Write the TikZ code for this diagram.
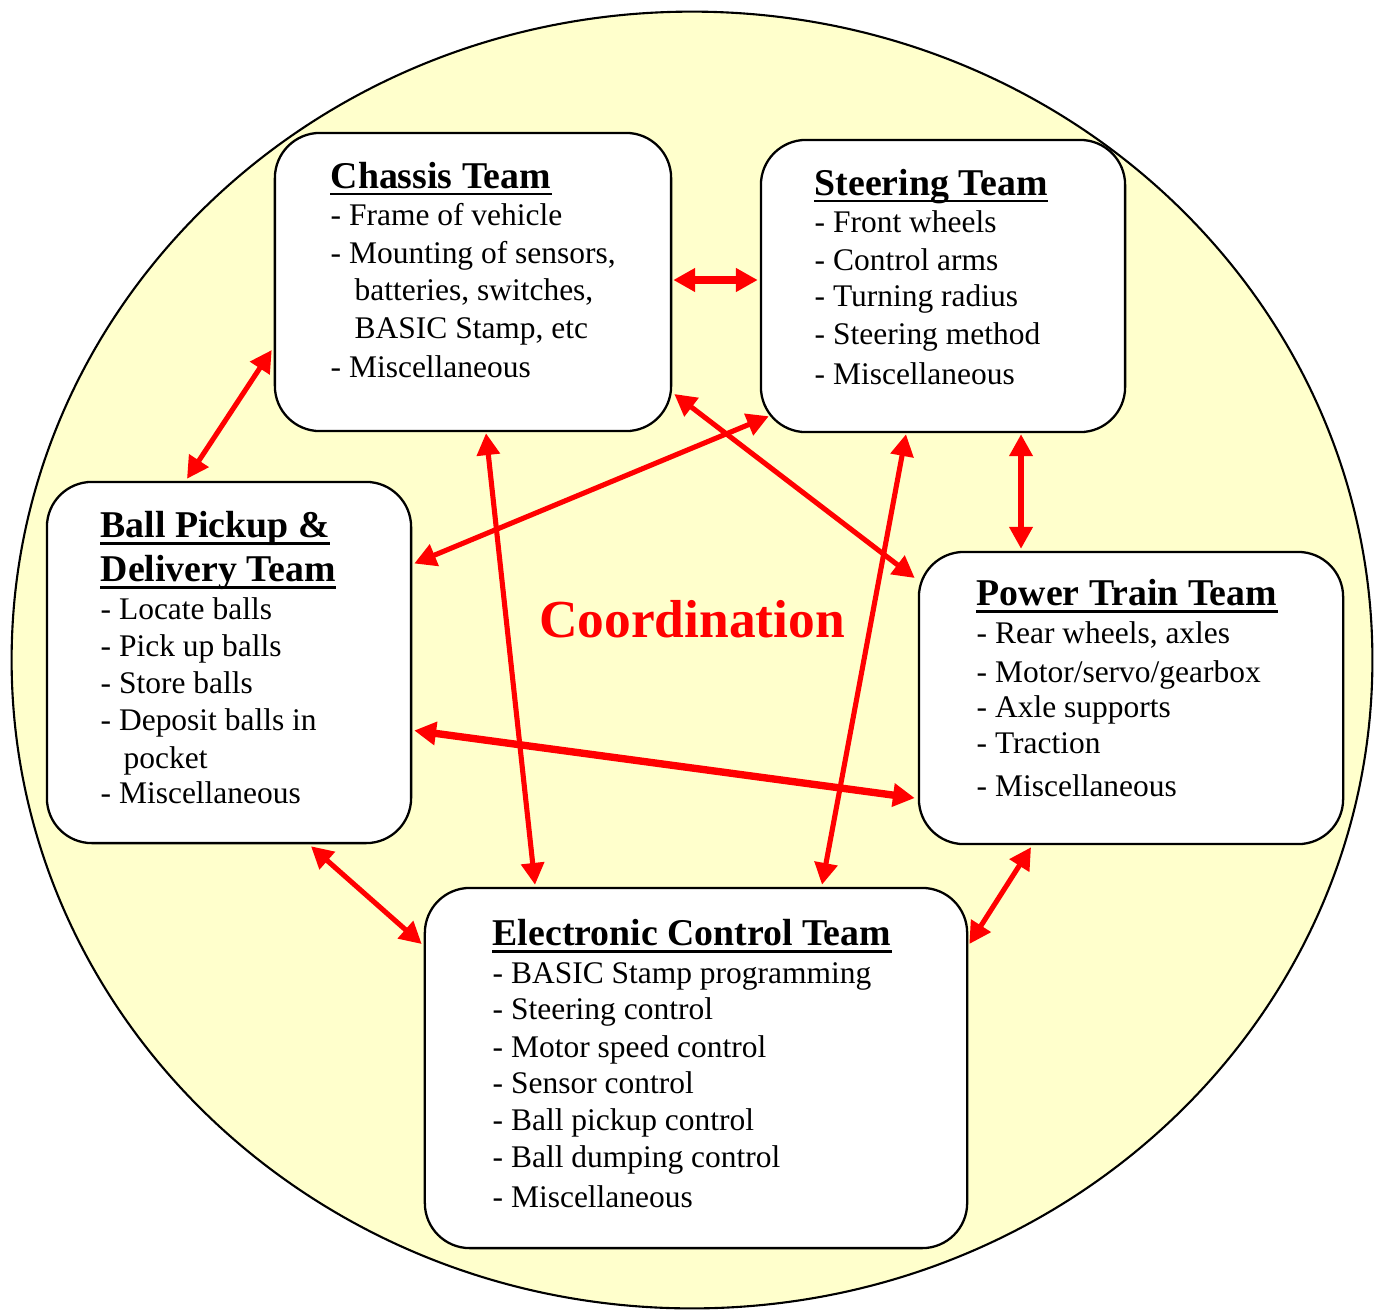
\documentclass[tikz,border=0pt]{standalone}
\usepackage{fontspec}
\setmainfont{Liberation Serif}
\usetikzlibrary{arrows.meta,calc}
\definecolor{bgyellow}{RGB}{255,255,204}
\begin{document}
\begin{tikzpicture}[x=0.01cm,y=-0.01cm,
  box/.style={draw, line width=0.65pt, fill=white, rounded corners=0.45cm, inner sep=0pt},
  ttl/.style={font=\bfseries\fontsize{10.75pt}{12pt}\selectfont, inner sep=0pt, anchor=base west},
  itm/.style={font=\fontsize{8.95pt}{10pt}\selectfont, inner sep=0pt, anchor=base west},
  ul/.style={line width=0.85pt},
  link/.style={draw=red, line width=1.45pt, {Triangle[length=6.2pt,width=6.4pt]}-{Triangle[length=6.2pt,width=6.4pt]}},
  thicklink/.style={link, line width=2.1pt}]
\useasboundingbox (0,0) rectangle (1377,1309);
% background circle
\path[fill=bgyellow, draw=black, line width=0.6pt] (692,660) ellipse [x radius=6.8cm, y radius=6.48cm];

% boxes
\node[box, minimum width=3.96cm, minimum height=2.98cm] (CH) at (473,282) {};
\node[box, minimum width=3.64cm, minimum height=2.92cm] (ST) at (943,286) {};
\node[box, minimum width=3.64cm, minimum height=3.61cm] (BP) at (229,662.5) {};
\node[box, minimum width=4.24cm, minimum height=2.92cm] (PT) at (1131,698) {};
\node[box, minimum width=5.42cm, minimum height=3.60cm] (EC) at (696,1068) {};

% connectors
\draw[thicklink] ($(CH.east)+(1,-2)$) -- ($(ST.west)+(-2,-6)$);
\draw[link] ($(CH.west)+(-2,68)$) -- ($(BP.north)+(-42,-2)$);
\draw[link] ($(ST.south west)+(9,-17)$) -- ($(BP.east)+(2,-99)$);
\draw[link] ($(CH.east)+(2,112)$) -- ($(PT.west)+(-3,-120)$);
\draw[link] ($(CH.south)+(13,1)$) -- ($(EC.north)+(-161,-2)$);
\draw[link] ($(ST.south)+(-37,1)$) -- ($(EC.north)+(126,-2)$);
\draw[link] ($(ST.south)+(78,1)$) -- ($(PT.north)+(-110,-2)$);
\draw[thicklink] ($(BP.east)+(2,68)$) -- ($(PT.west)+(-3,100)$);
\draw[link] ($(BP.south)+(82,2)$) -- ($(EC.west)+(-2,-124)$);
\draw[link] ($(PT.south)+(-100,2)$) -- ($(EC.east)+(1,-124)$);

% Chassis team
\node[ttl] (ch0) at (330,188) {Chassis Team};
\draw[ul] ($(ch0.base west)+(0,6)$) -- ($(ch0.base east)+(0,6)$);
\node[itm] (ch1) at (330,225) {- Frame of vehicle};
\node[itm] (ch2) at (330,263) {- Mounting of sensors,};
\node[itm] (ch3) at (354,300) {batteries, switches,};
\node[itm] (ch4) at (354,338) {BASIC Stamp, etc};
\node[itm] (ch5) at (330,377) {- Miscellaneous};

% Steering team
\node[ttl] (st0) at (814,195) {Steering Team};
\draw[ul] ($(st0.base west)+(0,6)$) -- ($(st0.base east)+(0,6)$);
\node[itm] (st1) at (814,232) {- Front wheels};
\node[itm] (st2) at (814,270) {- Control arms};
\node[itm] (st3) at (814,306) {- Turning radius};
\node[itm] (st4) at (814,344) {- Steering method};
\node[itm] (st5) at (814,384) {- Miscellaneous};

% Ball pickup team
\node[ttl] (bp0) at (100,537) {Ball Pickup \&};
\draw[ul] ($(bp0.base west)+(0,6)$) -- ($(bp0.base east)+(0,6)$);
\node[ttl] (bp0b) at (100,581) {Delivery Team};
\draw[ul] ($(bp0b.base west)+(0,6)$) -- ($(bp0b.base east)+(0,6)$);
\node[itm] (bp1) at (100,619) {- Locate balls};
\node[itm] (bp2) at (100,656) {- Pick up balls};
\node[itm] (bp3) at (100,693) {- Store balls};
\node[itm] (bp4) at (100,730) {- Deposit balls in};
\node[itm] (bp5) at (123,768) {pocket};
\node[itm] (bp6) at (100,803) {- Miscellaneous};

% Power train team
\node[ttl] (pt0) at (976,605) {Power Train Team};
\draw[ul] ($(pt0.base west)+(0,6)$) -- ($(pt0.base east)+(0,6)$);
\node[itm] (pt1) at (976,643) {- Rear wheels, axles};
\node[itm] (pt2) at (976,682) {- Motor/servo/gearbox};
\node[itm] (pt3) at (976,717) {- Axle supports};
\node[itm] (pt4) at (976,753) {- Traction};
\node[itm] (pt5) at (976,796) {- Miscellaneous};

% Electronic control team
\node[ttl] (ec0) at (492,945) {Electronic Control Team};
\draw[ul] ($(ec0.base west)+(0,6)$) -- ($(ec0.base east)+(0,6)$);
\node[itm] (ec1) at (492,983) {- BASIC Stamp programming};
\node[itm] (ec2) at (492,1019) {- Steering control};
\node[itm] (ec3) at (492,1057) {- Motor speed control};
\node[itm] (ec4) at (492,1093) {- Sensor control};
\node[itm] (ec5) at (492,1130) {- Ball pickup control};
\node[itm] (ec6) at (492,1167) {- Ball dumping control};
\node[itm] (ec7) at (492,1207) {- Miscellaneous};

% centre label
\node[font=\bfseries\fontsize{15.2pt}{18pt}\selectfont, text=red, inner sep=0pt, anchor=base] (coord) at (692,637) {Coordination};
\end{tikzpicture}
\end{document}
